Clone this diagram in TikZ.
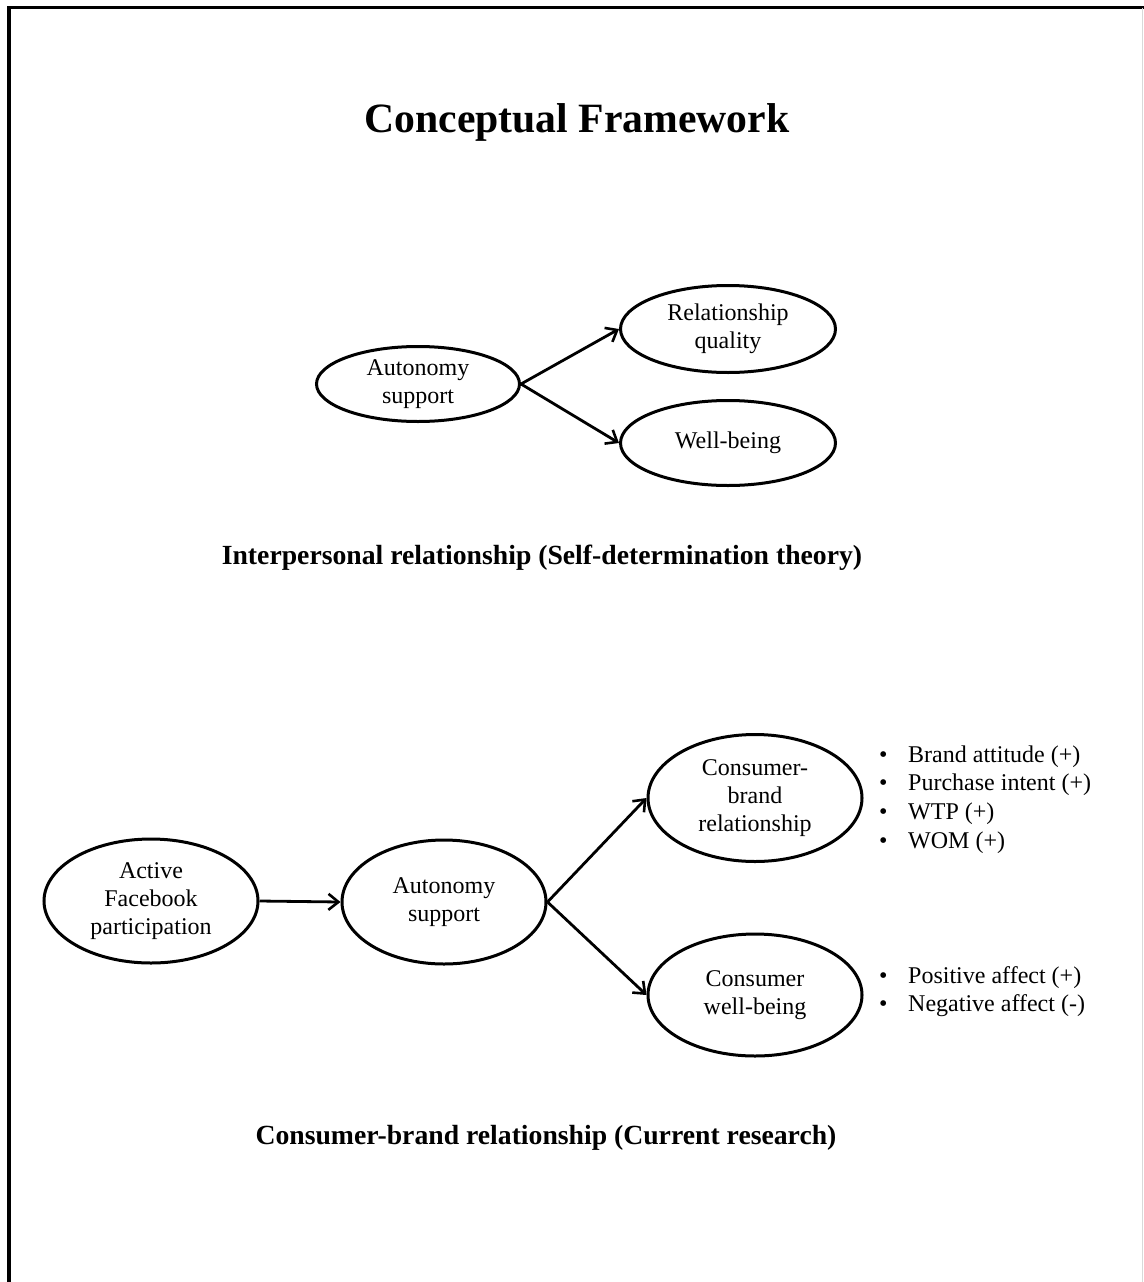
\documentclass[tikz,border=0pt]{standalone}
\usepackage{fontspec}
\setmainfont{Liberation Serif}
\usetikzlibrary{shapes.geometric,arrows.meta}
\begin{document}
\begin{tikzpicture}[x=1pt,y=-1pt,
  oval/.style={draw,ellipse,line width=3pt,inner sep=0pt,align=center,
    font=\fontsize{24}{28}\selectfont},
  link/.style={line width=2.8pt,-{Straight Barb[length=10pt,width=16pt,line width=2.6pt]}},
  heading/.style={font=\bfseries\fontsize{27.7}{32}\selectfont},
  item/.style={anchor=base west,inner sep=0pt,font=\fontsize{24}{28}\selectfont}]
\useasboundingbox (0,0) rectangle (1143,1282);
% outer frame (open at the bottom)
\draw[line width=3.2pt] (9,1290) -- (9,7.5) -- (1150,7.5);
\draw[line width=1pt,black!15] (1142,7.5) -- (1142,1290);

\node[anchor=base,font=\bfseries\fontsize{41.7}{46}\selectfont] (title) at (577,132) {Conceptual Framework};

% self-determination model
\node[oval,minimum width=203pt,minimum height=75pt] (aut1) at (418,384) {Autonomy\\support};
\node[oval,minimum width=215pt,minimum height=87pt] (rq) at (728,329) {Relationship\\quality};
\node[oval,minimum width=215pt,minimum height=85pt] (wb) at (728,443) {Well-being};
\draw[link] (aut1.east) -- (rq.west);
\draw[link] (aut1.east) -- (wb.west);
\node[heading] (cap1) at (542,558) {Interpersonal relationship (Self-determination theory)};

% consumer-brand model
\node[oval,minimum width=214pt,minimum height=124pt] (fb) at (151,901) {Active\\Facebook\\participation};
\node[oval,minimum width=204pt,minimum height=124pt] (aut2) at (444,902) {Autonomy\\support};
\node[oval,minimum width=214pt,minimum height=127pt] (cbr) at (755,798) {Consumer-\\brand\\relationship};
\node[oval,minimum width=214pt,minimum height=122pt] (cwb) at (755,995) {Consumer\\well-being};
\draw[link] (fb.east) -- (aut2.west);
\draw[link] (aut2.east) -- (cbr.west);
\draw[link] (aut2.east) -- (cwb.west);

% outcome lists
\foreach \y/\t [count=\i] in {762/Brand attitude (+),790/Purchase intent (+),819/WTP (+),848/WOM (+),983/Positive affect (+),1011/Negative affect (-)}{
  \node[item] (b\i) at (879,\y) {\textbullet};
  \node[item] (t\i) at (908,\y) {\t};
}

\node[heading] (cap2) at (546,1138) {Consumer-brand relationship (Current research)};
\end{tikzpicture}
\end{document}
